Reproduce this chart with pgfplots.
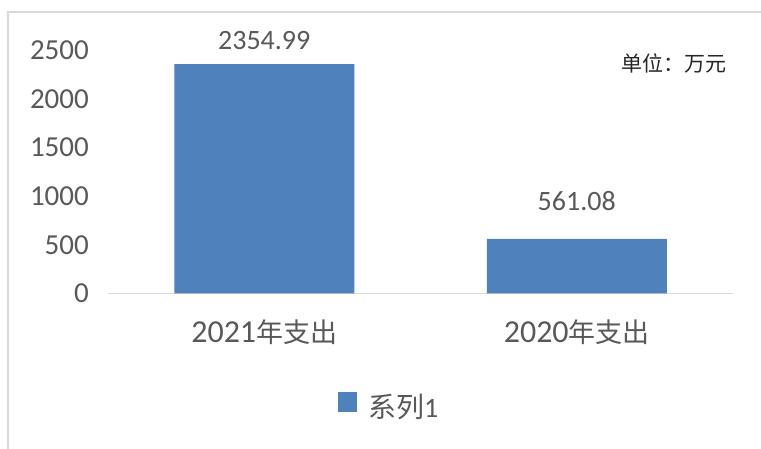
\documentclass[border=0pt]{standalone}
\usepackage{fontspec}
\setmainfont{Carlito}
\newfontfamily\cjk{Noto Sans CJK SC}
\usepackage{pgfplots}
\pgfplotsset{compat=1.18}
\usepackage{pgfplotstable}
\definecolor{barblue}{RGB}{79,129,189}
\definecolor{txtgray}{RGB}{89,89,89}
\definecolor{framegray}{RGB}{217,217,217}
\pgfplotstableread{
x y off label
0 2354.99 15 2354.99
1 561.08 28 561.08
}\datatable
\begin{document}
\begin{tikzpicture}[x=1pt,y=1pt]
\useasboundingbox (0,0) rectangle (761,449);
\fill[white] (0,0) rectangle (761,449);
\draw[framegray, line width=1.5pt] (8,0) -- (8,437) -- (761,437);
\begin{axis}[
  at={(108pt,155.5pt)}, anchor=south west,
  scale only axis, width=625pt, height=243.5pt,
  xmin=-0.5, xmax=1.5, ymin=0, ymax=2500,
  enlargelimits=false, clip=false,
  ybar, bar width=180pt,
  xtick={0,1},
  xticklabels={{2021{\cjk\fontsize{27}{32}\selectfont 年支出}},{2020{\cjk\fontsize{27}{32}\selectfont 年支出}}},
  ytick={0,500,...,2500},
  axis x line*=bottom, axis y line*=left,
  axis line style={-},
  x axis line style={framegray, line width=1.5pt},
  y axis line style={draw=none},
  major tick length=0pt, tick style={draw=none},
  /pgf/number format/assume math mode=true,
  /pgf/number format/1000 sep={},
  scaled y ticks=false,
  yticklabel style={font=\fontsize{29}{35}\selectfont, text=txtgray, anchor=east, inner sep=0pt, xshift=-19pt},
  xticklabel style={font=\fontsize{32}{38}\selectfont, text=txtgray, anchor=base, inner sep=0pt, yshift=-49.5pt},
  nodes near coords, point meta=explicit symbolic,
  visualization depends on={\thisrow{off} \as \off},
  every node near coord/.append style={font=\fontsize{28}{34}\selectfont, text=txtgray, anchor=base, inner sep=0pt, yshift=\off pt},
  legend style={draw=none, fill=none, at={(0.368,-0.459)}, anchor=west,
    inner sep=0pt, nodes={inner sep=0pt},
    font=\fontsize{28}{34}\selectfont, text=txtgray,
    /tikz/every odd column/.append style={column sep=11pt}},
  legend image code/.code={\fill[#1,draw=none] (0pt,-5pt) rectangle (19pt,15pt);},
]
\addplot[fill=barblue, draw=none] table[x=x, y=y, meta=label] {\datatable};
\addlegendentry{{\cjk 系列}1}
\node[font=\cjk\fontsize{21}{25}\selectfont, text=black!85, inner sep=0pt] at (rel axis cs:0.9056,0.9466) {单位：万元};
\end{axis}
\end{tikzpicture}
\end{document}
